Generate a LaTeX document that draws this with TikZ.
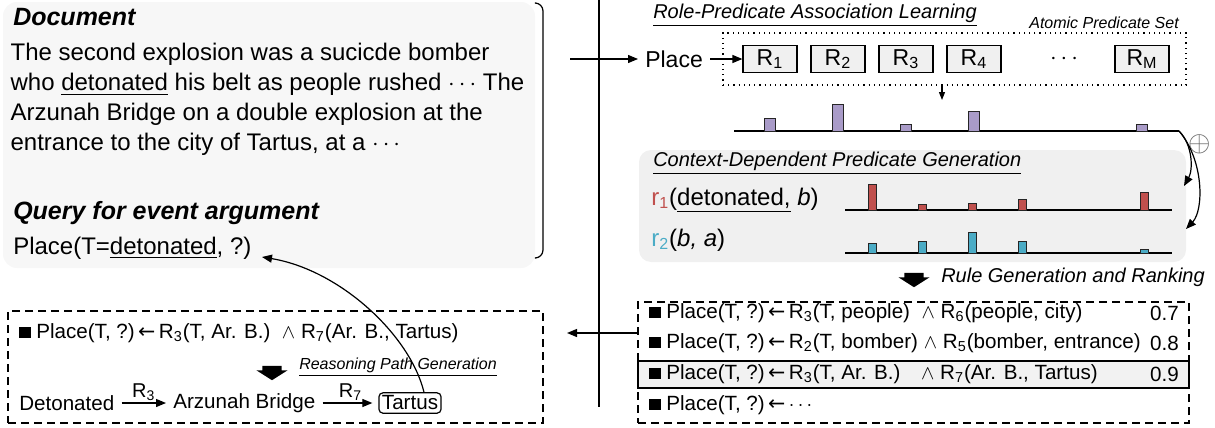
\documentclass[tikz,border=0pt]{standalone}
\usepackage{fontspec}
\setmainfont{Liberation Sans}
\newfontfamily\symfont{DejaVu Sans}
\usetikzlibrary{arrows.meta,shapes.arrows,fit}

\definecolor{barpurple}{HTML}{A99BC8}
\definecolor{barred}{HTML}{C0504D}
\definecolor{barblue}{HTML}{4BACC6}

\newcommand{\sq}{\rule{0.55em}{0.55em}}
\newcommand{\imp}{\,{\symfont ←}\,}

\begin{document}
\begin{tikzpicture}[x=0.5pt, y=-0.5pt, line width=0.6pt,
    every node/.style={font=\fontsize{12}{15}\selectfont},
    head/.style={anchor=west, font=\fontsize{12.5}{15}\selectfont\bfseries\itshape},
    stage/.style={anchor=west, font=\fontsize{10}{12}\selectfont\itshape},
    rbox/.style={draw, fill=gray!12, minimum width=27pt, minimum height=13.5pt, inner sep=0pt, font=\fontsize{11.5}{13}\selectfont},
    rule/.style={anchor=west, font=\fontsize{10.3}{12}\selectfont},
    dashbox/.style={draw, dash pattern=on 4pt off 2.5pt, inner sep=0pt},
    bar/.style={draw=black!85, line width=0.5pt},
    bigdown/.style={single arrow, fill=black, rotate=-90, inner sep=0pt, single arrow head extend=3pt, single arrow tip angle=115},
    link/.style={-{Triangle[length=5pt,width=4pt]}}
]
    \useasboundingbox (0,0) rectangle (1215,428);

    % document and query
    \path[fill=gray!6, rounded corners=7pt] (3,2) rectangle (535,268);
    \node[head] (doctitle) at (6,17) {Document};
    \node[anchor=north west, align=left, inner sep=0pt] (doctext) at (10,43) {The second explosion was a sucicde bomber\\who \underline{detonated} his belt as people rushed $\cdots$ The\\Arzunah Bridge on a double explosion at the\\entrance to the city of Tartus, at a $\cdots$};
    \node[head] (qtitle) at (6,213) {Query for event argument};
    \node[anchor=west] (query) at (6,248) {Place(T=\underline{detonated}, ?)};
    \draw[rounded corners=4pt] (536,3) -- (543,3) -- (543,258) -- (536,258);

    \draw (599,0) -- (599,407);

    % role-predicate association
    \coordinate (docout) at (570,59);
    \node[stage] (roletitle) at (646,15) {\underline{Role-Predicate Association Learning}};
    \node[anchor=east, font=\fontsize{8}{10}\selectfont\itshape] (settitle) at (1186,23) {Atomic Predicate Set};
    \node[draw, dotted, inner sep=0pt, fit={(723,33) (1186,85)}] (atomset) {};
    \node[anchor=west, font=\fontsize{11.5}{13}\selectfont] (place) at (638,59) {Place};
    \foreach \i/\x in {1/770,2/838,3/906,4/974}
        \node[rbox] (r\i) at (\x,59) {R\textsubscript{\i}};
    \node (rdots) at (1064,59) {$\cdots$};
    \node[rbox] (rM) at (1142,59) {R\textsubscript{M}};
    \draw[link] (docout) -- (place);
    \draw[link] (place) -- (r1);

    \coordinate (atomdown) at (942,100);
    \draw[-{Triangle[length=4pt,width=3pt]}] (atomset.south -| atomdown) -- (atomdown);
    \coordinate (scoreend) at (1179,131);
    \draw (734,131) -- (scoreend);
    \foreach \x/\h in {770/13,838/27,906/7,974/20,1142/7}
        \draw[bar, fill=barpurple] (\x-5.5,131) rectangle (\x+5.5,131-\h);
    \node[text=black!60, font=\fontsize{14}{14}\selectfont, inner sep=0pt] (merge) at (1200,144) {$\oplus$};

    % context-dependent predicates
    \path[fill=gray!12, rounded corners=6pt] (639,150) rectangle (1186,262);
    \node[stage] (ctxtitle) at (646,163) {\underline{Context-Dependent Predicate Generation}};
    \node[anchor=west] (rone) at (644,200) {\textcolor{barred}{r\textsubscript{1}}(\underline{detonated,} \textit{b})};
    \node[anchor=west] (rtwo) at (644,240) {\textcolor{barblue}{r\textsubscript{2}}(\textit{b, a})};
    \draw (845,210) -- (1172,210);
    \draw (845,253) -- (1172,253);
    \foreach \x/\h in {872/26,922/6,972/7,1022/11,1144/18}
        \draw[bar, fill=barred] (\x-4,210) rectangle (\x+4,210-\h);
    \foreach \x/\h in {872/10,922/12,972/21,1022/12,1144/4}
        \draw[bar, fill=barblue] (\x-4,253) rectangle (\x+4,253-\h);
    \coordinate (ctxin1) at (1184,186);
    \coordinate (ctxin2) at (1186,229);
    \draw[link] (scoreend) .. controls (1193,145) and (1193,170) .. (ctxin1);
    \draw[link] (scoreend) .. controls (1204,160) and (1204,210) .. (ctxin2);

    \node[bigdown] (rulearrow) at (914,277) {\rule{3.5pt}{9pt}};
    \node[stage] (rulegen) at (934,277) {Rule Generation and Ranking};

    % ranked rules
    \node[dashbox, fit={(638,302) (1189,423)}] (rules) {};
    \node[draw, fill=gray!10, inner sep=0pt, fit={(638,361) (1189,388)}] (best) {};
    \node[rule] (ruleA) at (642,313) {\sq\ Place(T, ?)\imp R\textsubscript{3}(T, people)\ \ $\wedge$ R\textsubscript{6}(people, city)};
    \node[rule] (ruleB) at (642,343) {\sq\ Place(T, ?)\imp R\textsubscript{2}(T, bomber) $\wedge$ R\textsubscript{5}(bomber, entrance)};
    \node[rule] (ruleC) at (642,374) {\sq\ Place(T, ?)\imp R\textsubscript{3}(T, Ar. B.)\quad$\wedge$ R\textsubscript{7}(Ar. B., Tartus)};
    \node[rule] (ruleD) at (642,405) {\sq\ Place(T, ?)\imp $\cdots$};
    \node[rule, anchor=east] (scoreA) at (1186,313) {0.7};
    \node[rule, anchor=east] (scoreB) at (1186,343) {0.8};
    \node[rule, anchor=east] (scoreC) at (1186,374) {0.9};

    % reasoning path
    \coordinate (pathin) at (567,333);
    \draw[link] (rules.west |- pathin) -- (pathin);
    \node[dashbox, fit={(8,311) (543,423)}] (pathbox) {};
    \node[rule] (leftrule) at (12,333) {\sq\ Place(T, ?)\imp R\textsubscript{3}(T, Ar. B.)\ \ $\wedge$ R\textsubscript{7}(Ar. B., Tartus)};
    \node[bigdown] (patharrow) at (272,370) {\rule{3.5pt}{9pt}};
    \node[stage, font=\fontsize{8}{10}\selectfont\itshape] (pathgen) at (292,367) {\underline{Reasoning Path Generation}};
    \node[rule] (deton) at (12,403) {Detonated};
    \node[rule] (arzunah) at (166,403) {Arzunah Bridge};
    \node[rule, draw, rounded corners=2pt, inner sep=1.5pt, anchor=center] (tartus) at (410,403) {Tartus};
    \draw[link] (deton) -- node[above, inner sep=1pt, font=\fontsize{10}{11}\selectfont] {R\textsubscript{3}} (arzunah);
    \draw[link, shorten >=3pt] (arzunah) -- node[above, inner sep=1pt, font=\fontsize{10}{11}\selectfont] {R\textsubscript{7}} (tartus);

    \coordinate (qend) at (262,257);
    \draw[link] ([xshift=7pt]tartus.north) .. controls (410,335) and (340,270) .. (qend);
\end{tikzpicture}
\end{document}
